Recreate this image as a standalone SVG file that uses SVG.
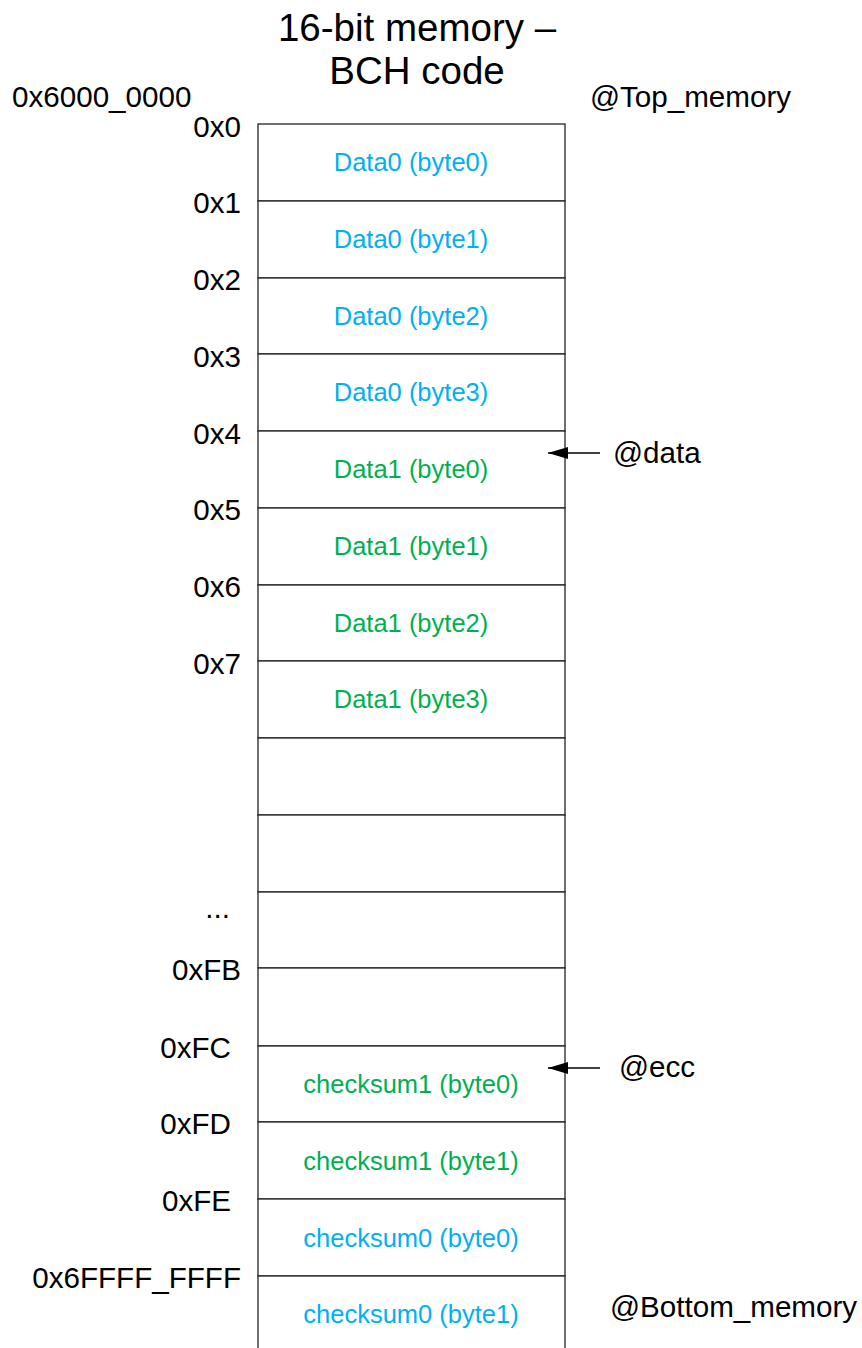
<svg xmlns="http://www.w3.org/2000/svg" width="862" height="1348" viewBox="0 0 862 1348">
<style>
text{font-family:"Liberation Sans",Arial,sans-serif;}
.t{font-size:38.5px;fill:#000;text-anchor:middle;}
.l{font-size:29.6px;fill:#000;}
.a{font-size:29.6px;fill:#000;text-anchor:end;}
.c{font-size:25.5px;text-anchor:middle;}
.b{fill:#00B0F0;}
.g{fill:#00B050;}
.cell{fill:#fff;stroke:#222;stroke-width:1.3;}
.conn{stroke:#000;stroke-width:1.5;fill:none;}
</style>
<defs>
<marker id="ah" markerWidth="20" markerHeight="12" refX="20" refY="6" orient="auto" markerUnits="userSpaceOnUse" viewBox="0 0 20 12">
<path d="M0,0 L20,6 L0,12 Z" fill="#000"/>
</marker>
</defs>
<rect width="862" height="1348" fill="#fff"/>
<g id="title">
<text class="t" x="417" y="41">16-bit memory –</text>
<text class="t" x="417" y="84">BCH code</text>
</g>
<g id="labels">
<text class="l" x="12" y="107">0x6000_0000</text>
<text class="l" x="590" y="107">@Top_memory</text>
<text class="l" x="610" y="1317">@Bottom_memory</text>
<text class="l" x="613" y="463">@data</text>
<text class="l" x="619" y="1077">@ecc</text>
</g>
<g id="addresses">
<text class="a" x="241" y="137">0x0</text>
<text class="a" x="241" y="213">0x1</text>
<text class="a" x="241" y="290">0x2</text>
<text class="a" x="241" y="367">0x3</text>
<text class="a" x="241" y="444">0x4</text>
<text class="a" x="241" y="520">0x5</text>
<text class="a" x="241" y="597">0x6</text>
<text class="a" x="241" y="674">0x7</text>
<text class="a" x="230" y="918">...</text>
<text class="a" x="241" y="980">0xFB</text>
<text class="a" x="231" y="1058">0xFC</text>
<text class="a" x="231" y="1134">0xFD</text>
<text class="a" x="231" y="1211">0xFE</text>
<text class="a" x="241" y="1288">0x6FFFF_FFFF</text>
</g>
<g id="memory">
<g id="cell0"><rect class="cell" x="258" y="124" width="307" height="77"/><text class="c b" x="411" y="171">Data0 (byte0)</text></g>
<g id="cell1"><rect class="cell" x="258" y="201" width="307" height="77"/><text class="c b" x="411" y="248">Data0 (byte1)</text></g>
<g id="cell2"><rect class="cell" x="258" y="278" width="307" height="76"/><text class="c b" x="411" y="325">Data0 (byte2)</text></g>
<g id="cell3"><rect class="cell" x="258" y="354" width="307" height="77"/><text class="c b" x="411" y="401">Data0 (byte3)</text></g>
<g id="cell4"><rect class="cell" x="258" y="431" width="307" height="77"/><text class="c g" x="411" y="478">Data1 (byte0)</text></g>
<g id="cell5"><rect class="cell" x="258" y="508" width="307" height="77"/><text class="c g" x="411" y="555">Data1 (byte1)</text></g>
<g id="cell6"><rect class="cell" x="258" y="585" width="307" height="76"/><text class="c g" x="411" y="632">Data1 (byte2)</text></g>
<g id="cell7"><rect class="cell" x="258" y="661" width="307" height="77"/><text class="c g" x="411" y="708">Data1 (byte3)</text></g>
<g id="cell8"><rect class="cell" x="258" y="738" width="307" height="77"/></g>
<g id="cell9"><rect class="cell" x="258" y="815" width="307" height="77"/></g>
<g id="cell10"><rect class="cell" x="258" y="892" width="307" height="76"/></g>
<g id="cell11"><rect class="cell" x="258" y="968" width="307" height="78"/></g>
<g id="cell12"><rect class="cell" x="258" y="1046" width="307" height="76"/><text class="c g" x="411" y="1093">checksum1 (byte0)</text></g>
<g id="cell13"><rect class="cell" x="258" y="1122" width="307" height="77"/><text class="c g" x="411" y="1170">checksum1 (byte1)</text></g>
<g id="cell14"><rect class="cell" x="258" y="1199" width="307" height="77"/><text class="c b" x="411" y="1247">checksum0 (byte0)</text></g>
<g id="cell15"><rect class="cell" x="258" y="1276" width="307" height="90"/><text class="c b" x="411" y="1323">checksum0 (byte1)</text></g>
</g>
<g id="connectors">
<line class="conn" x1="600" y1="453" x2="548" y2="453" marker-end="url(#ah)"/>
<line class="conn" x1="600" y1="1068" x2="548" y2="1068" marker-end="url(#ah)"/>
</g>
</svg>
